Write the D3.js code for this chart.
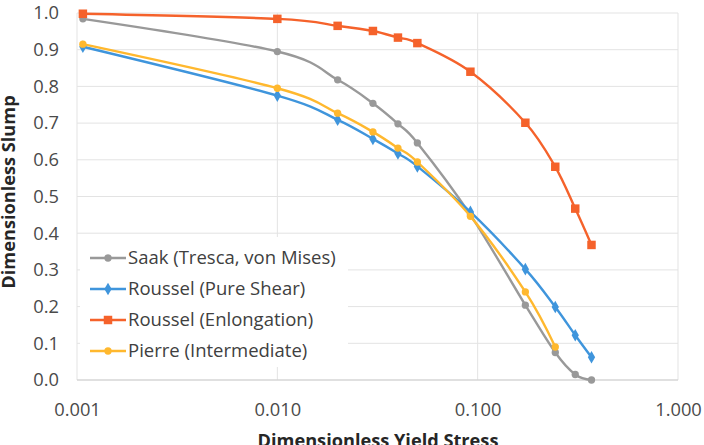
<!DOCTYPE html>
<html lang="en">
<head>
    <meta charset="UTF-8">
    <title>Dimensionless Slump vs Yield Stress</title>
    <script src="https://d3js.org/d3.v7.min.js"></script>
    <style>
        body {
            margin: 0;
            background-color: #ffffff;
            font-family: "Open Sans", Arial, sans-serif;
        }

        .grid line {
            stroke: #e3e3e3;
            stroke-width: 1px;
        }

        .axis text {
            font-family: "Open Sans", Arial, sans-serif;
            font-size: 18.3px;
            fill: #4a4a4a;
        }

        .axis-title {
            font-size: 18.2px;
            font-weight: bold;
            fill: #262626;
        }

        .series-line {
            fill: none;
            stroke-width: 2.4px;
        }

        .legend text {
            font-size: 18.5px;
            fill: #404040;
        }
    </style>
</head>
<body>
<svg width="704" height="445"></svg>
<script>
    // x values (log axis)
    const xSaak = [0.00107, 0.010, 0.020, 0.030, 0.040, 0.050, 0.092, 0.173, 0.244, 0.307, 0.370];
    const ySaak = [0.984, 0.895, 0.818, 0.754, 0.698, 0.646, 0.450, 0.204, 0.075, 0.015, 0.000];

    const xShear = [0.00107, 0.010, 0.020, 0.030, 0.040, 0.050, 0.092, 0.173, 0.244, 0.307, 0.370];
    const yShear = [0.908, 0.775, 0.709, 0.657, 0.617, 0.582, 0.458, 0.302, 0.199, 0.122, 0.062];

    const xElong = [0.00107, 0.010, 0.020, 0.030, 0.040, 0.050, 0.092, 0.173, 0.244, 0.307, 0.370];
    const yElong = [0.998, 0.984, 0.965, 0.951, 0.933, 0.918, 0.840, 0.701, 0.581, 0.467, 0.368];

    const xPierre = [0.00107, 0.010, 0.020, 0.030, 0.040, 0.050, 0.092, 0.173, 0.244];
    const yPierre = [0.915, 0.795, 0.727, 0.676, 0.632, 0.594, 0.446, 0.240, 0.090];

    const xTicks = [0.001, 0.01, 0.1, 1];
    const xTickLabels = ["0.001", "0.010", "0.100", "1.000"];
    const yTicks = [0, 0.1, 0.2, 0.3, 0.4, 0.5, 0.6, 0.7, 0.8, 0.9, 1.0];

    const seriesNames = ["Saak (Tresca, von Mises)", "Roussel (Pure Shear)", "Roussel (Enlongation)", "Pierre (Intermediate)"];
    const seriesColors = ["#999999", "#3f95dc", "#f5622b", "#ffb82e"];
    const seriesMarkers = ["circle", "diamond", "square", "circle"];

    const series = [
        {x: xSaak, y: ySaak},
        {x: xShear, y: yShear},
        {x: xElong, y: yElong},
        {x: xPierre, y: yPierre}
    ].map((s, i) => ({
        name: seriesNames[i],
        color: seriesColors[i],
        marker: seriesMarkers[i],
        points: s.x.map((xv, j) => ({x: xv, y: s.y[j]}))
    }));

    const svg = d3.select("svg"),
        margin = {top: 13, right: 25, bottom: 64, left: 77},
        width = +svg.attr("width") - margin.left - margin.right,
        height = +svg.attr("height") - margin.top - margin.bottom,
        g = svg.append("g").attr("transform", `translate(${margin.left},${margin.top})`);

    const x = d3.scaleLog().domain([0.001, 1]).range([0, width - 1]);
    const y = d3.scaleLinear().domain([0, 1]).range([height - 1, 0]);

    // gridlines
    const grid = g.append("g").attr("class", "grid");
    grid.selectAll(".h").data(yTicks).join("line")
        .attr("x1", 0).attr("x2", width - 1)
        .attr("y1", d => y(d)).attr("y2", d => y(d));
    grid.selectAll(".v").data(xTicks).join("line")
        .attr("x1", d => x(d)).attr("x2", d => x(d))
        .attr("y1", 0).attr("y2", height - 1);

    // bottom axis line
    g.append("line")
        .attr("x1", 0).attr("x2", width - 1)
        .attr("y1", y(0)).attr("y2", y(0))
        .attr("stroke", "#cfcfcf");

    // axes labels
    const xAxis = g.append("g")
        .attr("class", "axis")
        .attr("transform", `translate(0,${height - 1})`)
        .call(d3.axisBottom(x).tickValues(xTicks).tickFormat((d, i) => xTickLabels[i]).tickSize(0).tickPadding(23));
    xAxis.select(".domain").remove();

    const yAxis = g.append("g")
        .attr("class", "axis")
        .call(d3.axisLeft(y).tickValues(yTicks).tickFormat(d3.format(".1f")).tickSize(0).tickPadding(18));
    yAxis.select(".domain").remove();

    svg.append("text")
        .attr("class", "axis-title")
        .attr("x", 378)
        .attr("y", 447)
        .attr("text-anchor", "middle")
        .text("Dimensionless Yield Stress");

    svg.append("text")
        .attr("class", "axis-title")
        .attr("transform", "rotate(-90)")
        .attr("x", -192)
        .attr("y", 15)
        .attr("text-anchor", "middle")
        .text("Dimensionless Slump");

    // Excel-style smoothing
    const line = d3.line()
        .x(d => x(d.x))
        .y(d => y(d.y))
        .curve(d3.curveCardinal.tension(0));

    const symbolFor = {
        circle: d3.symbol().type(d3.symbolCircle).size(42),
        diamond: d3.symbol().type(d3.symbolDiamond).size(46),
        square: d3.symbol().type(d3.symbolSquare).size(72)
    };

    series.forEach(s => {
        g.append("path")
            .datum(s.points)
            .attr("class", "series-line")
            .attr("stroke", s.color)
            .attr("d", line);

        g.selectAll(null).data(s.points).join("path")
            .attr("transform", d => `translate(${x(d.x)},${y(d.y)})`)
            .attr("d", symbolFor[s.marker]())
            .attr("fill", s.color);
    });

    // legend
    const legend = g.append("g")
        .attr("class", "legend")
        .attr("transform", "translate(3,224)");

    legend.append("rect")
        .attr("width", 268).attr("height", 130)
        .attr("fill", "#ffffff");

    series.forEach((s, i) => {
        const row = legend.append("g").attr("transform", `translate(10,${21 + i * 31})`);
        row.append("line")
            .attr("x1", 0).attr("x2", 36)
            .attr("stroke", s.color).attr("stroke-width", 2.4);
        row.append("path")
            .attr("transform", "translate(18,0)")
            .attr("d", symbolFor[s.marker]())
            .attr("fill", s.color);
        row.append("text")
            .attr("x", 38)
            .attr("dy", "0.35em")
            .text(s.name);
    });
</script>
</body>
</html>
